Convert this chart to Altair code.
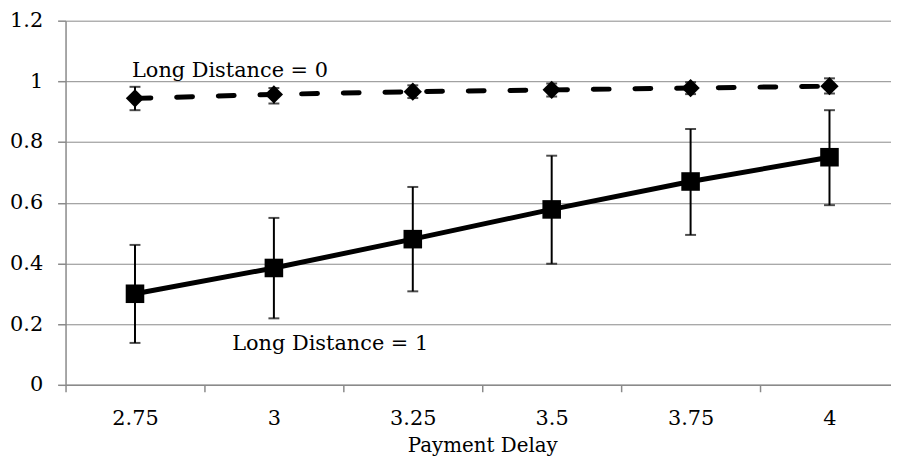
import altair as alt
import pandas as pd

# ---- data ----
x_labels = ["2.75", "3", "3.25", "3.5", "3.75", "4"]

ld0_mean = [0.944, 0.957, 0.966, 0.972, 0.978, 0.984]
ld0_lo = [0.905, 0.927, 0.945, 0.950, 0.958, 0.960]
ld0_hi = [0.982, 0.978, 0.987, 0.993, 0.997, 1.010]

ld1_mean = [0.300, 0.385, 0.480, 0.578, 0.670, 0.750]
ld1_lo = [0.138, 0.219, 0.308, 0.399, 0.494, 0.592]
ld1_hi = [0.461, 0.550, 0.652, 0.755, 0.843, 0.905]

ann_text = ["Long Distance = 0", "Long Distance = 1"]
ann_x = ["2.75", "3"]
ann_y = [1.013, 0.115]

y_ticks = [0, 0.2, 0.4, 0.6, 0.8, 1.0, 1.2]

rows = []
for i, x in enumerate(x_labels):
    rows.append({"x": x, "series": "LD0", "mean": ld0_mean[i], "lo": ld0_lo[i], "hi": ld0_hi[i]})
    rows.append({"x": x, "series": "LD1", "mean": ld1_mean[i], "lo": ld1_lo[i], "hi": ld1_hi[i]})
df = pd.DataFrame(rows)
ann = pd.DataFrame({"text": ann_text, "x": ann_x, "y": ann_y})

FONT = "DejaVu Serif"
GRAY = "#8a8a8a"

xscale = alt.Scale(type="band", domain=x_labels, range=[0, 840], paddingInner=0, paddingOuter=0)
yscale = alt.Scale(domain=[0, 1.2], nice=False, zero=True)

X = alt.X("x:N", sort=x_labels, scale=xscale,
          axis=alt.Axis(title="Payment Delay", labelAngle=0, tickBand="extent",
                        grid=False, tickSize=7, labelPadding=16, titlePadding=7))
Y = alt.Y("mean:Q", scale=yscale,
          axis=alt.Axis(title=None, values=y_ticks, format="~g", grid=True,
                        gridColor=GRAY, gridWidth=1, tickSize=8, labelPadding=15))

base = alt.Chart(df)

err = base.mark_rule(color="black", strokeWidth=2).encode(
    x=X, y=alt.Y("lo:Q", scale=yscale), y2="hi:Q")
cap_lo = base.mark_tick(color="black", size=11, thickness=2).encode(
    x=X, y=alt.Y("lo:Q", scale=yscale))
cap_hi = base.mark_tick(color="black", size=11, thickness=2).encode(
    x=X, y=alt.Y("hi:Q", scale=yscale))

line0 = base.transform_filter(alt.datum.series == "LD0").mark_line(
    color="black", strokeWidth=5, strokeDash=[16, 26], strokeCap="round").encode(x=X, y=Y)
line1 = base.transform_filter(alt.datum.series == "LD1").mark_line(
    color="black", strokeWidth=5).encode(x=X, y=Y)

pts0 = base.transform_filter(alt.datum.series == "LD0").mark_point(
    shape="diamond", filled=True, color="black", size=340, opacity=1).encode(x=X, y=Y)
pts1 = base.transform_filter(alt.datum.series == "LD1").mark_point(
    shape="square", filled=True, color="black", size=350, opacity=1).encode(x=X, y=Y)

annY = alt.Y("y:Q", scale=yscale)
ann0 = alt.Chart(ann).transform_filter(alt.datum.text == ann_text[0]).mark_text(
    align="left", baseline="alphabetic", dx=-3, font=FONT, fontSize=21, color="black"
).encode(x=alt.X("x:N", sort=x_labels, scale=xscale), y=annY, text="text:N")
ann1 = alt.Chart(ann).transform_filter(alt.datum.text == ann_text[1]).mark_text(
    align="left", baseline="alphabetic", dx=-42, font=FONT, fontSize=21, color="black"
).encode(x=alt.X("x:N", sort=x_labels, scale=xscale), y=annY, text="text:N")

chart = alt.layer(err, cap_lo, cap_hi, line0, line1, pts0, pts1, ann0, ann1).properties(
    width=832, height=367,
    autosize=alt.AutoSizeParams(type="none"),
    padding={"left": 58, "top": 11, "right": 0, "bottom": 71},
    background="white",
).configure_view(stroke=None).configure_axis(
    labelFont=FONT, labelFontSize=21, labelColor="black",
    titleFont=FONT, titleFontSize=20, titleColor="black", titleFontWeight="normal",
    domainColor=GRAY, domainWidth=1.5, tickColor=GRAY, tickWidth=1.5,
)

chart.save("out.html", embed_options={"renderer": "svg", "actions": False})
